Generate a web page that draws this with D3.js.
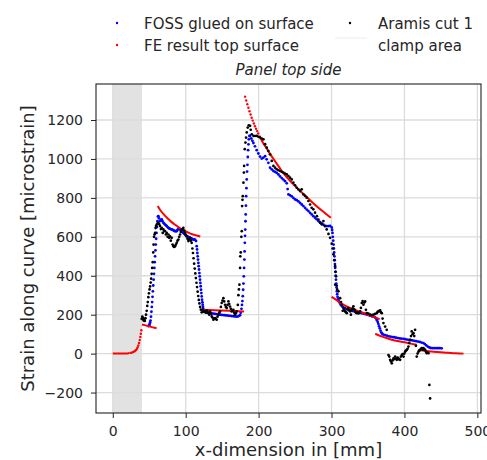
<!DOCTYPE html>
<html lang="en">
  <head>
    <meta charset="UTF-8" />
    <title>Panel top side</title>
    <style>
      body {
        margin: 0;
        background: white;
      }
      text {
        font-family: "DejaVu Sans", sans-serif;
        fill: #262626;
      }
      .grid-lines line {
        stroke: #dcdcdc;
        stroke-width: 1.3;
      }
      .fe-line {
        fill: none;
        stroke: #ff0000;
        stroke-width: 2;
      }
    </style>
  </head>
  <body>
    <script src="https://d3js.org/d3.v7.min.js"></script>
    <script>
      // values: [x in mm, strain in microstrain]
      const xTicks = [0, 100, 200, 300, 400, 500];
      const yTicks = [-200, 0, 200, 400, 600, 800, 1000, 1200];
      const clampArea = [0, 40];
      const legendLabels = [
        "FOSS glued on surface",
        "FE result top surface",
        "Aramis cut 1",
        "clamp area",
      ];

      const foss = [
        [49,142],[50,146],[50.6,152],[51.2,160],[51.8,170],[52.4,190],[53,215],[53.5,240],
        [54,265],[54.5,292],[55,320],[55.5,350],[56,380],[56.5,410],[57,440],[57.5,470],
        [58,500],[58.5,530],[59,560],[59.5,590],[60,620],[60.6,650],[61.3,680],[62,705],
        [62.5,706],[63.5,695],[64.8,681],[66,686],[67.1,689],[68.2,680],[69.4,672],[70.5,668],
        [71.7,663],[73,659],[74,655],[75.2,650],[76.3,646],[77.4,643],[78.5,641],[79.7,640],
        [80.8,638],[82,636],[83.1,634],[84.3,631],[85.4,629],[86.5,629],[87.7,629],[88.8,636],
        [90,641],[91.1,640],[92.3,638],[93.4,633],[94.5,629],[95.7,624],[96.8,620],[98,616],
        [99.1,612],[100.3,607],[101.4,603],[102.5,601],[103.7,600],[105,597],[106,595],[107,592],
        [108.2,590],[109.4,588],[110.5,586],[111.7,586],[112.8,586],[114.2,578],
        [115.1,552],[115.6,535],[116,517],[116.5,500],[116.9,483],[117.4,466],[117.8,449],
        [118.3,432],[118.8,414],[119.2,397],[119.7,380],[120.1,363],[120.6,346],[121,328],
        [121.5,311],[122,294],[122.4,277],[122.9,264],[123.3,251],[123.8,240],[124.2,229],
        [125.2,217],[127,214],[128.8,212],[131,210],[133.4,208],[135.7,206],[138,205],[140.3,204],
        [142.5,203],[145,201],[147.1,200],[149.4,199],[151.7,198],[154,197],[156.2,196],[158.5,195],
        [160.8,194],[163,193],[165.4,192],[167.7,191],[170,190],[172.3,192],[174.5,197],
        [175.5,210],[176.5,230],[177.2,250],[177.8,270],[178.3,295],[178.8,328],[179.2,360],
        [179.7,397],[180.1,440],[180.5,483],[180.8,525],[181.1,569],[181.4,605],[181.7,637],
        [182,680],[182.3,715],[182.6,760],[182.9,809],[183.3,850],[183.7,895],[184.2,935],
        [184.7,970],[185.2,1010],[185.6,1045],[186.1,1075],[186.6,1101],[187.4,1118],
        [188.3,1119],[190,1105],[191.5,1093],[192.9,1082],[195,1065],[197.4,1045],[199.7,1028],
        [202,1012],[204.3,1002],[206.6,1007],[208.9,1014],[211,998],[213.4,980],[215.7,955],
        [218,946],[220.3,938],[222.6,934],[224.9,928],[227.2,920],[229.4,910],[231.7,902],
        [234,894],[236.3,886],[238.6,875],[239.8,845],[240.9,818],[243.2,813],[245.4,808],
        [247.7,800],[250,792],[252.3,788],[254.6,782],[256.9,774],[259.1,766],[261.4,758],
        [263.7,749],[266,740],[268.3,732],[270.6,723],[272.8,715],[275.1,706],[277.4,698],
        [279.7,690],[282,681],[284.3,675],[286.6,669],[288.9,662],[291.1,656],[293.4,655],
        [295.7,655],[298,656],[300.3,648],
        [300.8,635],[301.3,620],[301.8,600],[302.3,580],[302.8,560],[303.2,540],[303.6,520],
        [304,500],[304.4,480],[304.7,460],[305,440],[305.3,420],[305.7,400],[306.1,380],
        [306.5,360],[306.9,340],[307.3,320],[307.8,305],[308.3,292],[309,282],[309.7,274],
        [311,262],[312.5,252],[314,244],[316,238],[318.6,233],[321,229],[323,226],[325.5,223],
        [328,220],[330,218],[332.3,216],[334.6,214],[337,212],[339.2,209],[341.5,207],[344,205],
        [346,203],[348.4,201],[350.6,198],[353,195],[355.3,192],[357.5,190],[359.7,186],
        [361.2,180],[362.3,172],[363.4,162],[364.3,152],[365.2,140],[366.2,130],[367.2,118],
        [368.3,108],[369.5,102],[371,98],[373.5,95],[376,92],[378.5,89],[381,87],[383.5,85],
        [386,84],[388.5,82],[391,80],[393.5,78],[396,77],[398.7,76],[401,74],[403.5,72],
        [406,71],[408.5,69],[411,68],[413.5,66],[416,64],[418.5,62],[421,60],[423.5,57],
        [426,54],[428,49],[430,42],[432,36],[434,32],[436,29],[438.5,28],[441,28],[443.5,28],
        [446,28],[448.5,28],[451,27],
      ];

      const feSegments = [
        [[0,0],[5,0],[10,0],[15,0],[20,1],[23,3]],
        [[40,150],[45,145],[50,140],[55,135],[60,130]],
        [[61.6,758],[65,738],[70,715],[75,695],[80,678],[85,663],[90,650],[95,638],[100,628],
         [105,619],[110,612],[115,607],[120,602]],
        [[122,226],[140,223],[160,220],[180,216]],
        [[201,1120],[205,1090],[210,1060],[215,1030],[220,1002],[225,975],[230,948],[235,922],
         [240,900],[245,880],[250,862],[260,825],[270,790],[280,756],[290,725],[299,698]],
        [[300,292],[305,280],[310,266],[315,254],[320,244],[330,228],[340,214],[350,200],
         [360,186],[366,176]],
        [[360,102],[365,94],[370,87],[375,80],[380,74],[390,65],[400,58],[410,50],[417,45]],
        [[419,19],[425,16],[430,13],[440,10],[450,7],[460,4],[470,2],[481,0]],
      ];

      // steep parts of the FE result, where single points are visible
      const feSteep = [
        [24.5,4],[26,5],[28,8],[30,12],[31.5,17],[33,24],[34,32],[35,42],[36,55],[37,70],
        [37.8,86],[38.5,102],[39.2,120],
        [181.5,1320],[183,1300],[184.5,1281],[186,1263],[187.5,1245],[189,1228],[190.5,1212],
        [192,1197],[193.5,1182],[195,1168],[196.5,1155],[198,1143],[199.5,1131],
      ];

      const aramis = [
        [39.7,178],[40.5,190],[41.5,184],[42.3,170],[43,176],[44,168],[44.8,182],[45.6,200],
        [46.5,220],[47.3,245],[48,265],[48.8,290],[49.6,310],[50.4,330],[51.2,345],[52,365],
        [52.6,385],[53.3,410],[54,440],[54.8,470],[55.5,520],[56,560],[56.6,600],[57.3,612],
        [58,620],[58.7,645],[59.3,655],[60.3,663],[61.4,668],[62.5,672],
        [63.6,665],[64.8,655],[66,640],[67.1,646],[68.5,620],[69.4,638],[70.5,630],[71.7,629],
        [72.8,612],[74,620],[75.2,600],[76.3,612],[77.4,595],[78.5,603],[79.6,580],[80.8,595],
        [82,560],[83.1,552],[84.3,548],[85.4,552],[86.5,560],[87.7,569],[88.8,580],[90,586],
        [91.1,600],[92.3,612],[93.4,625],[94.5,638],[95.6,640],[96.8,646],[98,632],[99.1,620],
        [100.3,610],[101.4,603],[102.5,590],[103.7,578],[104.8,586],[106,595],[107.1,580],
        [108.2,569],[109.2,540],[110,517],[110.8,490],[111.6,462],[112.4,437],[113.2,412],
        [114,388],[114.8,364],[115.6,342],[116.4,318],[117.2,296],[118,276],[118.8,258],
        [119.8,240],[120.8,226],[122,212],
        [123.2,225],[124.3,220],[125.5,214],[126.6,217],[127.8,210],[128.9,222],[130,212],
        [131.1,208],[132.3,200],[133.4,217],[134.5,205],[135.7,191],[136.8,185],[138,174],
        [139.1,180],[140.3,182],[141.4,178],[142.6,174],[143.7,190],[144.8,200],[146,210],
        [147.1,217],[148.3,240],[149.4,260],[150.5,272],[151.7,285],[152.8,268],[154,251],
        [155.1,240],[156.3,234],[157.4,250],[158.6,268],[159.7,255],[160.8,242],[162,230],
        [163.1,217],[164.2,220],[165.4,225],[166.5,210],[167.7,200],[168.8,208],[170,217],
        [171.5,250],[172.3,300],[173,330],[173.7,354],[174.6,440],[174.9,500],[175.5,520],
        [176.3,600],[176.9,629],[177.4,758],[177.9,790],[178.3,809],[179.2,878],[179.8,930],
        [180.1,964],[181,1050],[181.9,1084],[182.8,1110],[183.7,1136],[185.1,1161],
        [186.5,1173],[188.3,1170],[189.2,1150],[190.6,1127],
        [192.9,1119],[195,1118],[197.4,1119],[199.7,1114],[202,1110],[204.3,1105],[206.6,1101],
        [208.9,1076],[211.2,1058],[213.4,1041],[215.7,1024],[218,990],[220.3,964],[222.6,955],
        [224.9,947],[227.2,942],[229.4,938],[231.7,934],[234,930],[236.3,925],[238.6,921],
        [240.9,912],[243.1,904],[245.4,895],[247.7,878],[250,865],[252.3,852],[254.6,843],
        [256.9,835],[259.1,844],[261.4,818],[263.7,810],[266,801],[268.3,784],[270.6,766],
        [272.8,749],[275.1,741],[277.4,724],[280,706],[282,689],[284.3,672],[286.6,664],
        [288.9,681],[291.1,655],[293.4,638],[295.8,615],[298,595],[300.3,565],[301.5,540],
        [302.6,510],[303.8,480],[304.9,449],[305.6,420],[306.2,397],[307.1,350],[307.8,330],
        [305,354],[309.5,320],[311.8,285],[313,265],[314.1,251],[315.4,220],[316.4,234],
        [317.5,225],[318.7,217],[320,212],[321,208],[322,228],[323.2,234],[324.3,222],
        [325.5,217],[326.6,200],[327.8,225],[329,232],[330,243],[331.2,228],[332.4,217],
        [333.5,210],[334.7,208],[336,212],[337,206],[339.2,217],[340.3,235],[341.5,260],
        [342.6,270],[343.8,251],[345,262],[346.1,268],[347.2,225],[348.4,208],[350.7,205],
        [353,200],[355.2,198],[357.5,200],[359.8,204],[362.1,208],[363.2,215],[364.4,217],
        [365.5,220],[366.7,222],[367.8,212],[368.9,208],[370,180],[371.2,157],[373.5,139],
        [375.7,122],
        [378.1,-7],[379.2,-15],[380.4,-32],[381.5,-40],[382.7,-50],[383.8,-35],[385,-24],
        [386.1,-28],[387.2,-15],[388.4,-25],[389.5,-32],[390.6,-20],[391.8,-24],[392.9,-30],
        [394.1,-32],[395.2,-15],[396.4,-7],[397.5,-2],[398.7,-15],[399.8,0],[400.9,10],
        [402,15],[403.2,19],[404.3,25],[405.5,36],[406.6,55],[407.8,71],[409,90],[410,114],
        [411.2,100],[412.4,105],[413.5,90],[414.6,122],[415.7,40],[416.9,-15],[418,0],
        [419.2,10],[420.3,15],[421.5,19],[422.6,25],[423.8,28],[425,20],[426.1,28],[427.2,22],
        [428.4,19],[429.5,10],[430.6,2],[432,5],[433,2],[434.2,-161],[435.2,-230],
      ];

      function makeChart() {
        const width = 487;
        const height = 460;
        const plot = { left: 96, right: 481, top: 84, bottom: 413 };

        const svg = d3
          .select("body")
          .append("svg")
          .attr("width", width)
          .attr("height", height);

        const xScale = d3
          .scaleLinear()
          .domain([-23, 505])
          .range([plot.left, plot.right]);

        const yScale = d3
          .scaleLinear()
          .domain([-305, 1385])
          .range([plot.bottom, plot.top]);

        // clamp area
        svg
          .append("rect")
          .attr("x", xScale(clampArea[0]))
          .attr("width", xScale(clampArea[1]) - xScale(clampArea[0]))
          .attr("y", plot.top)
          .attr("height", plot.bottom - plot.top)
          .attr("fill", "#e2e2e2");

        // grid
        const grid = svg.append("g").attr("class", "grid-lines");
        grid
          .selectAll(".gx")
          .data(xTicks)
          .join("line")
          .attr("x1", xScale)
          .attr("x2", xScale)
          .attr("y1", plot.top)
          .attr("y2", plot.bottom);
        grid
          .selectAll(".gy")
          .data(yTicks)
          .join("line")
          .attr("x1", plot.left)
          .attr("x2", plot.right)
          .attr("y1", yScale)
          .attr("y2", yScale);

        // FOSS
        svg
          .append("g")
          .selectAll("circle")
          .data(foss)
          .join("circle")
          .attr("cx", (d) => xScale(d[0]))
          .attr("cy", (d) => yScale(d[1]))
          .attr("r", 1.4)
          .attr("fill", "#0000ff");

        // FE result
        const line = d3
          .line()
          .x((d) => xScale(d[0]))
          .y((d) => yScale(d[1]))
          .curve(d3.curveMonotoneX);

        svg
          .append("g")
          .selectAll("path")
          .data(feSegments)
          .join("path")
          .attr("class", "fe-line")
          .attr("d", line);

        svg
          .append("g")
          .selectAll("circle")
          .data(feSteep)
          .join("circle")
          .attr("cx", (d) => xScale(d[0]))
          .attr("cy", (d) => yScale(d[1]))
          .attr("r", 1.2)
          .attr("fill", "#ff0000");

        // Aramis
        svg
          .append("g")
          .selectAll("circle")
          .data(aramis)
          .join("circle")
          .attr("cx", (d) => xScale(d[0]))
          .attr("cy", (d) => yScale(d[1]))
          .attr("r", 1.35)
          .attr("fill", "#000");

        // frame
        svg
          .append("rect")
          .attr("x", plot.left)
          .attr("y", plot.top)
          .attr("width", plot.right - plot.left)
          .attr("height", plot.bottom - plot.top)
          .attr("fill", "none")
          .attr("stroke", "#222")
          .attr("stroke-width", 1.1);

        // axes
        const xAxis = svg
          .append("g")
          .attr("transform", `translate(0, ${plot.bottom})`)
          .call(
            d3.axisBottom(xScale).tickValues(xTicks).tickSize(5).tickPadding(8)
          );
        const yAxis = svg
          .append("g")
          .attr("transform", `translate(${plot.left}, 0)`)
          .call(
            d3
              .axisLeft(yScale)
              .tickValues(yTicks)
              .tickFormat(d3.format("d"))
              .tickSize(5)
              .tickPadding(8)
          );

        [xAxis, yAxis].forEach((a) => {
          a.select(".domain").remove();
          a.selectAll(".tick line").attr("stroke", "#222");
          a.selectAll(".tick text")
            .attr("font-size", 14)
            .attr("font-family", "DejaVu Sans")
            .attr("fill", "#262626");
        });

        svg
          .append("text")
          .attr("x", (plot.left + plot.right) / 2)
          .attr("y", 456)
          .attr("text-anchor", "middle")
          .attr("font-size", 18)
          .text("x-dimension in [mm]");

        svg
          .append("text")
          .attr("transform", `translate(34, ${(plot.top + plot.bottom) / 2}) rotate(-90)`)
          .attr("text-anchor", "middle")
          .attr("font-size", 18)
          .text("Strain along curve [microstrain]");

        svg
          .append("text")
          .attr("x", (plot.left + plot.right) / 2)
          .attr("y", 75)
          .attr("text-anchor", "middle")
          .attr("font-size", 15)
          .attr("font-style", "italic")
          .text("Panel top side");

        // legend, filled column by column like matplotlib
        const legendColors = ["#0000ff", "#ff0000", "#000", null];
        const legend = svg
          .append("g")
          .selectAll("g")
          .data(legendLabels)
          .join("g")
          .attr(
            "transform",
            (d, i) => `translate(${i < 2 ? 117 : 350}, ${i % 2 === 0 ? 23 : 45})`
          );

        legend
          .filter((d, i) => legendColors[i] !== null)
          .append("circle")
          .attr("r", 1.2)
          .attr("fill", (d) => legendColors[legendLabels.indexOf(d)]);

        legend
          .filter((d, i) => legendColors[i] === null)
          .append("line")
          .attr("x1", -15)
          .attr("x2", 17)
          .attr("y1", -7)
          .attr("y2", -7)
          .attr("stroke", "#ececec")
          .attr("stroke-width", 1);

        legend
          .append("text")
          .attr("x", (d, i) => (i < 2 ? 27 : 28))
          .attr("y", 6)
          .attr("font-size", 15)
          .text((d) => d);
      }

      makeChart();
    </script>
  </body>
</html>
